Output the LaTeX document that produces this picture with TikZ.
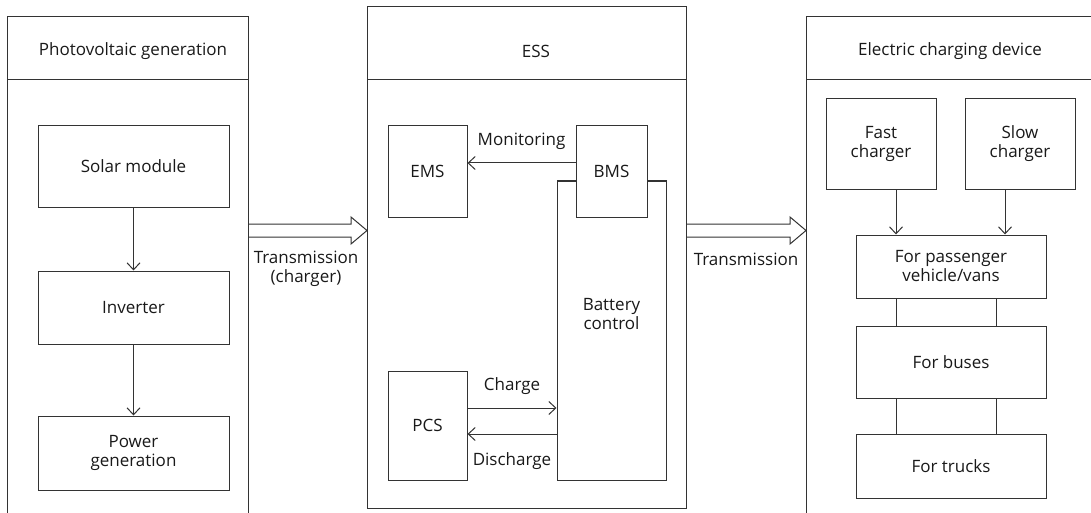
\documentclass[tikz,border=0pt]{standalone}
\usepackage{fontspec}
\setmainfont{Open Sans}
\usetikzlibrary{arrows.meta,positioning}

\begin{document}
\begin{tikzpicture}[x=1pt,y=-1pt,>={Straight Barb[length=7pt,width=13pt]},
    font=\fontsize{17}{19}\selectfont,
    every node/.style={text=black!90},
    line/.style={line width=1pt, draw=black!80},
    box/.style={line, draw, fill=white, align=center, inner sep=0pt}]
  \useasboundingbox (0,0) rectangle (1091,513);

  % panels
  \draw[line] (7,513) -- (7,17) -- (248,17) -- (248,513);
  \draw[line] (7,80) -- (248,80);
  \draw[line] (367,7) rectangle (686,508);
  \draw[line] (367,80) -- (686,80);
  \draw[line] (806,513) -- (806,17) -- (1091,17);
  \draw[line] (806,80) -- (1091,80);
  \node (hpv) at (133,51) {Photovoltaic generation};
  \node (hess) at (536,51) {ESS};
  \node (hecd) at (950,51) {Electric charging device};

  % photovoltaic generation
  \node[box, minimum width=191, minimum height=81] (solar) at (133.5,166.5) {Solar module};
  \node[box, minimum width=191, minimum height=73] (inv) at (133.5,307.5) {Inverter};
  \node[box, minimum width=191, minimum height=74] (pgen) at (133.5,453) {Power\\generation};
  \draw[line,->] (solar) -- (inv);
  \draw[line,->] (inv) -- (pgen);

  % transmission (hollow arrows)
  \coordinate (arrL) at (248,230.5);
  \coordinate (arrR) at (686,230.5);
  \draw[line] (arrL) ++(0,-6.5) -- ++(103,0) -- ++(0,-7) -- ++(16,13.5)
    -- ++(-16,13.5) -- ++(0,-7) -- ++(-103,0);
  \draw[line] (arrR) ++(0,-6.5) -- ++(104,0) -- ++(0,-7) -- ++(16,13.5)
    -- ++(-16,13.5) -- ++(0,-7) -- ++(-104,0);
  \node[align=center] (tcharger) at (306,268.5) {Transmission\\(charger)};
  \node (trans) at (746,259) {Transmission};

  % ESS
  \node[box, minimum width=79, minimum height=91] (ems) at (427.5,171.5) {EMS};
  \node[box, minimum width=109, minimum height=299,
    label={[yshift=16pt, align=center]center:Battery\\control}] (bat) at (611.5,330.5) {};
  \node[box, minimum width=71, minimum height=91] (bms) at (611.5,171.5) {BMS};
  \node[box, minimum width=79, minimum height=109] (pcs) at (427.5,425.5) {PCS};
  \draw[line,->] ([yshift=8.5pt]bms.west) -- ([yshift=8.5pt]bms.west -| ems.east)
    node[midway, above=10pt] {Monitoring};
  \draw[line,->] ([yshift=17.5pt]pcs.east) -- ([yshift=17.5pt]pcs.east -| bat.west)
    node[midway, above=10pt] {Charge};
  \draw[line,->] ([yshift=-8.5pt]pcs.east -| bat.west) -- ([yshift=-8.5pt]pcs.east)
    node[midway, below=15pt] {Discharge};

  % electric charging device
  \node[box, minimum width=110, minimum height=90] (fast) at (881,144) {Fast\\charger};
  \node[box, minimum width=110, minimum height=90] (slow) at (1020,144) {Slow\\charger};
  \node[box, minimum width=190, minimum height=63] (pass) at (951,266.5) {For passenger\\vehicle/vans};
  \node[box, minimum width=190, minimum height=72] (bus) at (951,362) {For buses};
  \node[box, minimum width=190, minimum height=64] (truck) at (951,466) {For trucks};
  \draw[line,->] ([xshift=15pt]fast.south) -- ([xshift=15pt]fast.south |- pass.north);
  \draw[line,->] ([xshift=-15pt]slow.south) -- ([xshift=-15pt]slow.south |- pass.north);
  \draw[line] ([xshift=-55pt]pass.south) -- ([xshift=-55pt]bus.north);
  \draw[line] ([xshift=45pt]pass.south) -- ([xshift=45pt]bus.north);
  \draw[line] ([xshift=-55pt]bus.south) -- ([xshift=-55pt]truck.north);
  \draw[line] ([xshift=45pt]bus.south) -- ([xshift=45pt]truck.north);
\end{tikzpicture}
\end{document}
